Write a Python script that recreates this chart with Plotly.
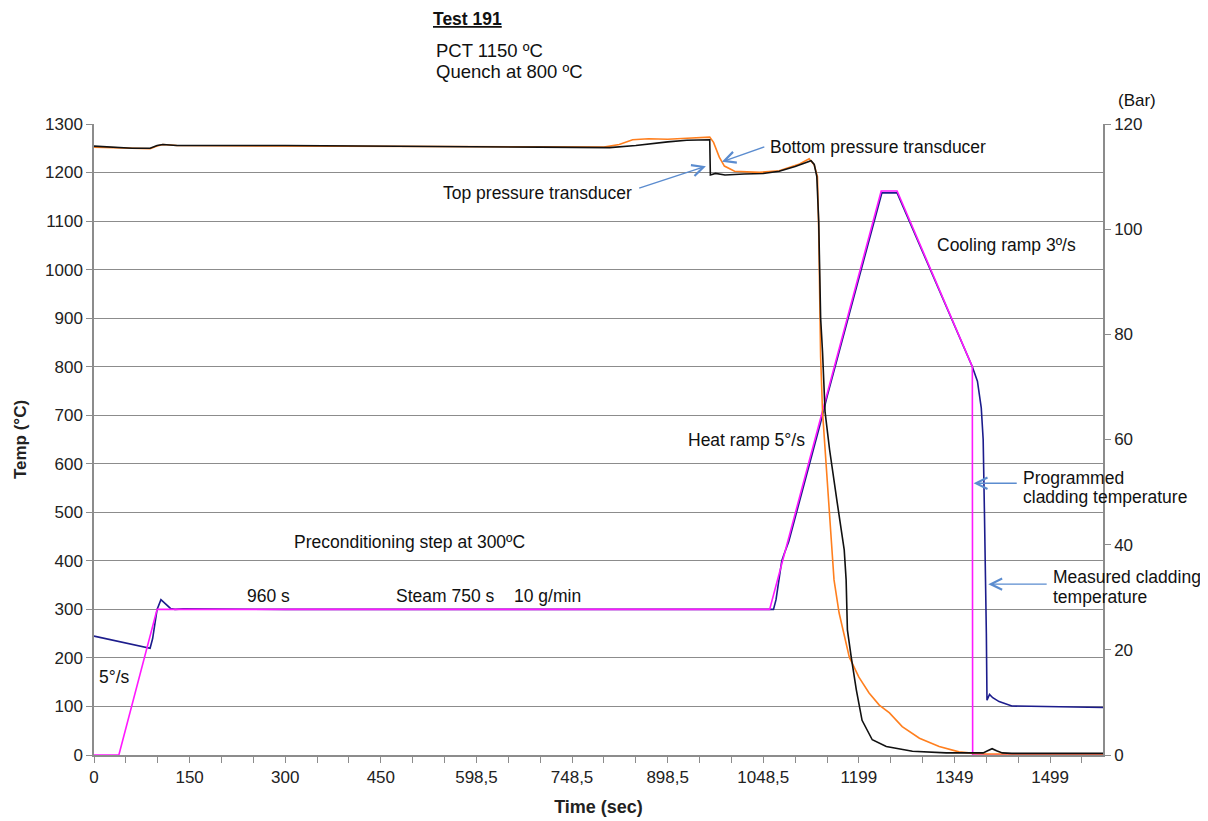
import plotly.graph_objects as go

# ---------------- data ----------------
# Programmed cladding temperature (°C)
prog_t = [0, 39, 99, 1060, 1235, 1260, 1378, 1378.5, 1583]
prog_T = [0, 0, 300, 300, 1162, 1162, 800, 0, 0]

# Measured cladding temperature (°C)
meas_t = [0, 88, 92, 99, 105, 112, 120, 127, 140, 300, 600, 900, 1066, 1070, 1075, 1079,
          1083, 1090, 1141, 1150, 1236, 1260, 1378, 1386, 1392, 1395, 1397, 1399, 1400,
          1401, 1403, 1405, 1410, 1420, 1440, 1500, 1583]
meas_T = [245, 220, 240, 300, 320, 312, 302, 300, 301, 300, 300, 300, 300, 320, 370, 400,
          415, 440, 690, 738, 1158, 1158, 800, 770, 715, 650, 500, 350, 250,
          113, 118, 125, 118, 110, 101, 100, 98]

# Top pressure transducer (bar)
top_t = [0, 25, 60, 88, 99, 108, 130, 300, 500, 700, 809, 850, 900, 930, 966, 967, 975, 990,
         1020, 1050, 1075, 1100, 1125, 1130, 1134, 1137, 1140, 1143, 1147, 1154, 1166, 1177,
         1180, 1182, 1188, 1196, 1205, 1221, 1243, 1284, 1337, 1380, 1395, 1402, 1409, 1416,
         1425, 1440, 1583]
top_p = [115.8, 115.6, 115.4, 115.4, 115.9, 116.1, 115.9, 115.9, 115.8, 115.6, 115.5, 115.9,
         116.6, 116.9, 117.0, 110.3, 110.6, 110.3, 110.5, 110.6, 111.0, 111.9, 113.0, 112.3,
         110.0, 101.5, 83.1, 76.6, 65.2, 58.1, 48.0, 39.0, 33.3, 23.8, 18.6, 12.4, 6.6, 2.9,
         1.6, 0.7, 0.4, 0.3, 0.4, 0.8, 1.2, 0.8, 0.4, 0.3, 0.3]

# Bottom pressure transducer (bar)
bot_t = [0, 25, 60, 88, 99, 108, 130, 300, 500, 700, 800, 824, 845, 870, 900, 930, 966, 972,
         981, 989, 1005, 1044, 1075, 1107, 1122, 1130, 1135, 1137, 1140, 1143, 1147, 1149, 1157,
         1161, 1169, 1178, 1185, 1200, 1216, 1232, 1248, 1268, 1295, 1326, 1357, 1380, 1400,
         1583]
bot_p = [115.6, 115.5, 115.3, 115.3, 115.8, 116.1, 115.9, 115.8, 115.7, 115.6, 115.6, 116.1,
         117.0, 117.2, 117.1, 117.3, 117.5, 116.5, 113.7, 112.0, 111.0, 110.8, 111.1, 112.4,
         113.4, 112.2, 110.0, 99.7, 75.7, 65.2, 58.1, 53.7, 39.0, 33.3, 27.0, 22.2, 18.6,
         14.8, 11.8, 9.5, 8.0, 5.4, 3.2, 1.6, 0.6, 0.3, 0.2, 0.2]

x_tickvals = [0, 150, 300, 450, 600, 750, 900, 1050, 1200, 1350, 1500]
x_ticktext = ["0", "150", "300", "450", "598,5", "748,5", "898,5", "1048,5", "1199", "1349", "1499"]

FONT = "Liberation Sans, Arial, sans-serif"
GRID = "#8c8c8c"
ARROW = "#5b8ccf"
TXT = 17.5

fig = go.Figure()
fig.add_trace(go.Scatter(x=bot_t, y=bot_p, yaxis="y2", mode="lines",
                         line=dict(color="#ff7f1e", width=1.6), name="Bottom pressure"))
fig.add_trace(go.Scatter(x=top_t, y=top_p, yaxis="y2", mode="lines",
                         line=dict(color="#111111", width=1.6), name="Top pressure"))
fig.add_trace(go.Scatter(x=meas_t, y=meas_T, mode="lines",
                         line=dict(color="#1c1c8c", width=1.6), name="Measured"))
fig.add_trace(go.Scatter(x=prog_t, y=prog_T, mode="lines",
                         line=dict(color="#ff19ff", width=1.6), name="Programmed"))

# page has an 8px body margin; plot area target in page px
pl, pr, pt, pb = 94, 1103, 124, 755
OFF = 8

fig.update_layout(
    width=1208, height=821,
    margin=dict(l=pl - OFF, r=1208 - (pr - OFF), t=pt - OFF, b=821 - (pb - OFF)),
    paper_bgcolor="white", plot_bgcolor="white",
    showlegend=False,
    font=dict(family=FONT, size=17, color="#222222"),
    xaxis=dict(range=[0, 1583], tickvals=x_tickvals, ticktext=x_ticktext,
               showgrid=False, zeroline=False, showline=True, linecolor=GRID, linewidth=1.5,
               ticks="outside", ticklen=6, tickcolor=GRID,
               minor=dict(dtick=50, tick0=0, ticks="outside", ticklen=6, tickcolor=GRID),
               title=dict(text="<b>Time (sec)</b>", font=dict(size=18), standoff=14)),
    yaxis=dict(range=[0, 1300], dtick=100, showgrid=True, gridcolor=GRID, gridwidth=1.2,
               zeroline=False, showline=True, linecolor=GRID, linewidth=1.5,
               ticks="outside", ticklen=6, tickcolor=GRID,
               title=dict(text="<b>Temp (°C)</b>", font=dict(size=17), standoff=14)),
    yaxis2=dict(range=[0, 120], dtick=20, overlaying="y", side="right", showgrid=False,
                zeroline=False, showline=True, linecolor=GRID, linewidth=1.5,
                ticks="outside", ticklen=6, tickcolor=GRID),
)


def pxs(px, py):
    return ((px - pl) / (pr - pl), (pb - py) / (pb - pt))


def ptxt(px, py, s, size=TXT):
    xp, yp = pxs(px, py)
    fig.add_annotation(x=xp, y=yp, xref="paper", yref="paper", text=s, showarrow=False,
                       xanchor="left", yanchor="middle", align="left",
                       font=dict(size=size, family=FONT, color="#111111"))


def arrow(x, y, ax, ay):
    fig.add_annotation(x=x, y=y, ax=ax, ay=ay, xref="x", yref="y", axref="x", ayref="y",
                       text="", showarrow=True, arrowhead=5, arrowsize=1.6, arrowwidth=1.4,
                       arrowcolor=ARROW)


ptxt(431, 19, "<b><u>Test 191</u></b>", size=17.5)
ptxt(434, 50, "PCT 1150 ºC", size=18.5)
ptxt(434, 72, "Quench at 800 ºC", size=18.5)
ptxt(1116, 101, "(Bar)", size=17)

# in-plot labels
ptxt(768, 147, "Bottom pressure transducer")
ptxt(441, 193, "Top pressure transducer")
ptxt(935, 245, "Cooling ramp 3º/s")
ptxt(686, 440, "Heat ramp 5°/s")
ptxt(1021, 478, "Programmed")
ptxt(1021, 497, "cladding temperature")
ptxt(1051, 577, "Measured cladding")
ptxt(1051, 597, "temperature")
ptxt(292, 542, "Preconditioning step at 300ºC")
ptxt(245, 596, "960 s")
ptxt(394, 596, "Steam 750 s")
ptxt(512, 596, "10 g/min")
ptxt(97, 677, "5°/s")

# arrows (data coords: time, °C)
arrow(985, 1222, 1054, 1254)
arrow(960, 1213, 853, 1167)
arrow(1380, 560, 1450, 560)
arrow(1403, 352, 1497, 352)

fig.write_html("out.html")
